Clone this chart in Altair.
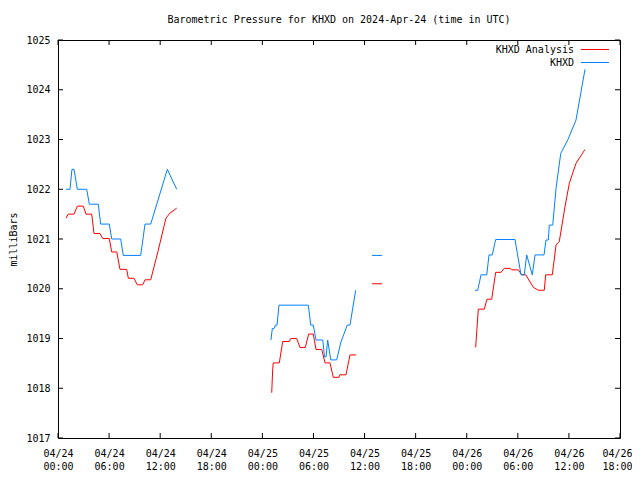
import json
import altair as alt
import pandas as pd

# ---------------- data (hours after 2024-04-24 00:00 UTC, pressure in mb) ----------------
series_names = ["KHXD Analysis", "KHXD"]
series_colors = ["#ff0000", "#0080ff"]

red_t = [0.94, 1.21, 1.88, 2.27, 2.97, 3.29, 3.96, 4.23, 4.93, 5.25, 6.02, 6.31, 6.90, 7.28, 8.07,
         8.26, 8.93, 9.31, 9.95, 10.22, 10.89, 11.74, 12.68, 13.15, 13.94,
         25.10, 25.21, 25.28, 25.99, 26.39, 27.16, 27.33, 28.03, 28.42, 29.04, 29.44, 29.98, 30.30,
         30.97, 31.36, 31.94, 32.33, 33.00, 33.10, 33.82, 34.29, 35.00,
         36.88, 38.05,
         49.05, 49.36, 50.06, 50.38, 50.93, 51.40, 52.03, 52.41, 53.08, 53.28, 54.06, 54.46, 54.93,
         55.82, 56.41, 57.11, 57.27, 58.05, 58.49, 58.87, 59.54, 60.05, 60.83, 61.89]
red_v = [1021.42, 1021.50, 1021.50, 1021.66, 1021.66, 1021.50, 1021.50, 1021.11, 1021.11, 1021.01,
         1021.01, 1020.74, 1020.74, 1020.39, 1020.39, 1020.21, 1020.21, 1020.08, 1020.08, 1020.18,
         1020.18, 1020.75, 1021.42, 1021.52, 1021.62,
         1017.91, 1018.37, 1018.51, 1018.51, 1018.94, 1018.94, 1019.00, 1019.00, 1018.82, 1018.82,
         1019.09, 1019.09, 1018.78, 1018.78, 1018.51, 1018.51, 1018.22, 1018.22, 1018.27, 1018.27,
         1018.67, 1018.67,
         1020.10, 1020.10,
         1018.82, 1019.59, 1019.59, 1019.79, 1019.79, 1020.33, 1020.33, 1020.41, 1020.41, 1020.38,
         1020.38, 1020.28, 1020.28, 1020.03, 1019.97, 1019.97, 1020.28, 1020.28, 1020.88, 1020.95,
         1021.65, 1022.12, 1022.52, 1022.80]
red_seg = [1] * 25 + [2] * 22 + [3] * 2 + [4] * 24

blue_t = [0.94, 1.41, 1.64, 1.88, 2.27, 3.37, 3.68, 4.73, 5.01, 6.02, 6.31, 7.36, 7.67, 9.71, 10.22,
          10.89, 12.84, 13.94,
          25.01, 25.17, 25.37, 25.54, 25.72, 25.95, 29.40, 29.68, 29.98, 30.30, 31.09, 31.30, 31.48,
          31.67, 32.03, 32.73, 33.23, 33.97, 34.29, 34.96,
          36.88, 38.05,
          48.97, 49.29, 49.68, 50.35, 50.62, 51.00, 51.40, 53.67, 54.37, 54.76, 55.04, 55.70, 56.02,
          57.08, 57.31, 57.58, 57.70, 58.10, 58.49, 59.04, 59.89, 60.83, 61.89]
blue_v = [1022.00, 1022.00, 1022.40, 1022.40, 1022.00, 1022.00, 1021.70, 1021.70, 1021.30, 1021.30,
          1021.00, 1021.00, 1020.67, 1020.67, 1021.30, 1021.30, 1022.40, 1022.00,
          1018.97, 1019.20, 1019.20, 1019.27, 1019.27, 1019.67, 1019.67, 1019.27, 1019.27, 1018.97,
          1018.97, 1018.63, 1018.63, 1018.97, 1018.57, 1018.57, 1018.93, 1019.27, 1019.27, 1019.97,
          1020.67, 1020.67,
          1019.97, 1019.97, 1020.28, 1020.28, 1020.68, 1020.68, 1020.99, 1020.99, 1020.28, 1020.28,
          1020.68, 1020.28, 1020.68, 1020.68, 1020.98, 1020.98, 1021.28, 1021.28, 1022.02, 1022.72,
          1023.00, 1023.39, 1024.41]
blue_seg = [1] * 18 + [2] * 20 + [3] * 2 + [4] * 23

x_ticks = [0, 6, 12, 18, 24, 30, 36, 42, 48, 54, 60, 66]
x_tick_days = ["04/24", "04/24", "04/24", "04/24", "04/25", "04/25", "04/25", "04/25",
               "04/26", "04/26", "04/26", "04/26"]
x_tick_times = ["00:00", "06:00", "12:00", "18:00", "00:00", "06:00", "12:00", "18:00",
                "00:00", "06:00", "12:00", "18:00"]
y_ticks = [1017, 1018, 1019, 1020, 1021, 1022, 1023, 1024, 1025]

title_text = "Barometric Pressure for KHXD on 2024-Apr-24 (time in UTC)"
y_title = "milliBars"

FONT = "DejaVu Sans Mono"
W, H = 562, 398

# ---------------- build table ----------------
df = pd.concat([
    pd.DataFrame({"t": red_t, "p": red_v, "seg": red_seg, "series": series_names[0]}),
    pd.DataFrame({"t": blue_t, "p": blue_v, "seg": blue_seg, "series": series_names[1]}),
], ignore_index=True)
df["key"] = df["series"] + "_" + df["seg"].astype(str)

xscale = alt.Scale(domain=[0, 66], nice=False, zero=False)
yscale = alt.Scale(domain=[1017, 1025], nice=False, zero=False)

label_expr = (f"[{json.dumps(x_tick_days)}[round(datum.value/6)], "
              f"{json.dumps(x_tick_times)}[round(datum.value/6)]]")

lines = alt.Chart(df).mark_line(strokeWidth=1, interpolate="linear").encode(
    x=alt.X("t:Q", scale=xscale, title=None,
            axis=alt.Axis(values=x_ticks, labelExpr=label_expr, ticks=False, tickSize=0,
                          domain=False, grid=False, labelFont=FONT, labelFontSize=10,
                          labelColor="black", labelPadding=10, labelLineHeight=13,
                          labelFlush=False, labelBound=False, labelAlign="center",
                          labelBaseline="top",
                          labelOffset={"condition": {"test": "datum.value >= 66", "value": -3},
                                       "value": 0})),
    y=alt.Y("p:Q", scale=yscale, title=y_title,
            axis=alt.Axis(values=y_ticks, format="d", ticks=False, tickSize=0, domain=False,
                          grid=False, labelFont=FONT, labelFontSize=10, labelColor="black",
                          labelPadding=8, labelFlush=False, labelBound=False,
                          titleFont=FONT, titleFontSize=10, titleFontWeight="normal",
                          titleColor="black", titleX=-45, titleY=H / 2, titleAngle=270,
                          titleAlign="center", titleBaseline="middle")),
    color=alt.Color("series:N", scale=alt.Scale(domain=series_names, range=series_colors),
                    legend=None),
    detail="key:N",
    order=alt.Order("t:Q"),
)

xt = pd.DataFrame({"t": x_ticks})
yt = pd.DataFrame({"p": y_ticks})
TK = 5
tick_bottom = alt.Chart(xt).mark_rule(color="black", strokeWidth=1).encode(
    x=alt.X("t:Q", scale=xscale), y=alt.value(H), y2=alt.value(H - TK))
tick_top = alt.Chart(xt).mark_rule(color="black", strokeWidth=1).encode(
    x=alt.X("t:Q", scale=xscale), y=alt.value(0), y2=alt.value(TK))
tick_left = alt.Chart(yt).mark_rule(color="black", strokeWidth=1).encode(
    y=alt.Y("p:Q", scale=yscale), x=alt.value(0), x2=alt.value(TK))
tick_right = alt.Chart(yt).mark_rule(color="black", strokeWidth=1).encode(
    y=alt.Y("p:Q", scale=yscale), x=alt.value(W), x2=alt.value(W - TK))

leg_df = pd.DataFrame({"label": series_names})
legend_layers = []
for i, (name, col) in enumerate(zip(series_names, series_colors)):
    ly = 10 + 13 * i
    legend_layers.append(
        alt.Chart(leg_df).transform_filter(alt.datum.label == name).mark_text(
            align="right", baseline="middle", font=FONT, fontSize=10, color="black"
        ).encode(text="label:N", x=alt.value(516), y=alt.value(ly))
    )
    legend_layers.append(
        alt.Chart(leg_df).transform_filter(alt.datum.label == name).mark_rule(
            color=col, strokeWidth=1
        ).encode(x=alt.value(523), x2=alt.value(551), y=alt.value(ly - 0.5))
    )

chart = alt.layer(lines, tick_bottom, tick_top, tick_left, tick_right, *legend_layers).properties(
    width=W, height=H,
    title=alt.TitleParams(title_text, font=FONT, fontSize=10, fontWeight="normal",
                          color="black", anchor="middle", baseline="bottom", offset=0),
    autosize=alt.AutoSizeParams(type="none"),
    padding={"left": 50, "top": 32, "right": 12, "bottom": 32},
).configure(
    background="white",
    view=alt.ViewConfig(stroke="black", strokeWidth=1),
)

chart.save("out.html", embed_options={"renderer": "svg", "actions": False})
